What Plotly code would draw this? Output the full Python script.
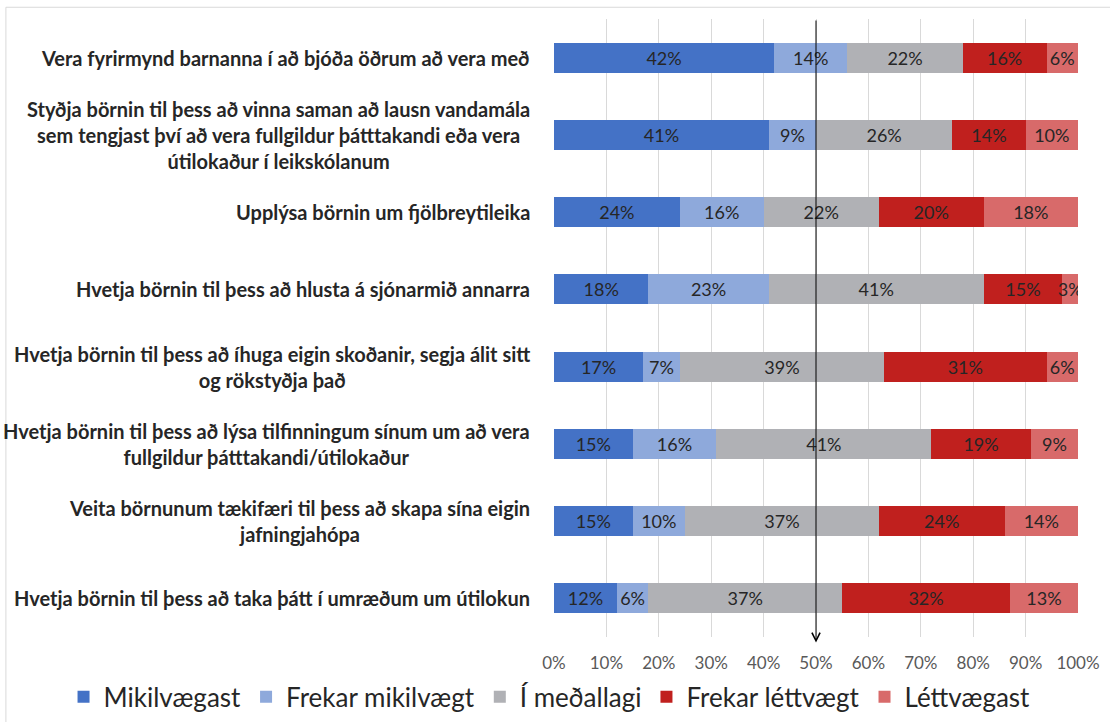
import plotly.graph_objects as go

# spurningar (efst fyrst)
categories = [
    "Vera fyrirmynd barnanna í að bjóða öðrum að vera með",
    "Styðja börnin til þess að vinna saman að lausn vandamála<br>sem tengjast því að vera fullgildur þátttakandi eða vera<br>útilokaður í leikskólanum",
    "Upplýsa börnin um fjölbreytileika",
    "Hvetja börnin til þess að hlusta á sjónarmið annarra",
    "Hvetja börnin til þess að íhuga eigin skoðanir, segja álit sitt<br>og rökstyðja það",
    "Hvetja börnin til þess að lýsa tilfinningum sínum um að vera<br>fullgildur þátttakandi/útilokaður",
    "Veita börnunum tækifæri til þess að skapa sína eigin<br>jafningjahópa",
    "Hvetja börnin til þess að taka þátt í umræðum um útilokun",
]

series_names = ["Mikilvægast", "Frekar mikilvægt", "Í meðallagi", "Frekar léttvægt", "Léttvægast"]

mikilvaegast = [42, 41, 24, 18, 17, 15, 15, 12]
frekar_mikilvaegt = [14, 9, 16, 23, 7, 16, 10, 6]
medallagi = [22, 26, 22, 41, 39, 41, 37, 37]
frekar_lettvaegt = [16, 14, 20, 15, 31, 19, 24, 32]
lettvaegast = [6, 10, 18, 3, 6, 9, 14, 13]

x_ticks = [0, 10, 20, 30, 40, 50, 60, 70, 80, 90, 100]

colors = ["#4472C6", "#8EA9DB", "#B0B1B5", "#C0201E", "#D86A6A"]
values = [mikilvaegast, frekar_mikilvaegt, medallagi, frekar_lettvaegt, lettvaegast]

FONT = "Lato"

fig = go.Figure()
for name, vals, col in zip(series_names, values, colors):
    fig.add_trace(go.Bar(
        y=categories, x=vals, name=name, orientation="h",
        marker=dict(color=col, line=dict(width=0)),
        text=[f"{v}%" for v in vals], textposition="inside",
        insidetextanchor="middle", textangle=0, constraintext="none",
        textfont=dict(family=FONT, size=18, color="#262626"),
        hoverinfo="x+name",
    ))

# flokkaheiti sem miðjusettur texti
for c in categories:
    fig.add_annotation(
        x=0, xref="paper", y=c, yref="y", text=f"<b>{c}</b>",
        showarrow=False, xanchor="right", yanchor="middle", align="center",
        xshift=-22, font=dict(family=FONT, size=20, color="#262626"),
    )

# ör við 50%
fig.add_annotation(
    x=50, xref="x", y=-0.009, yref="y domain",
    ax=50, axref="x", ay=1.0, ayref="y domain",
    showarrow=True, arrowhead=5, arrowsize=1.6, arrowwidth=1, arrowcolor="#000000",
    text="",
)

# rammi
fig.add_shape(type="rect", xref="paper", yref="paper", x0=-1.046, x1=1.2, y0=-0.5, y1=1.019,
              line=dict(color="#D9D9D9", width=1), fillcolor="rgba(0,0,0,0)", layer="below")

fig.update_layout(
    barmode="stack",
    bargap=0.61,
    width=1110, height=722,
    margin=dict(l=554, r=32, t=19, b=85, autoexpand=False),
    plot_bgcolor="white", paper_bgcolor="white",
    font=dict(family=FONT, color="#595959"),
    showlegend=True,
    legend=dict(
        orientation="h", xref="paper", yref="paper",
        x=-0.936, xanchor="left", y=-0.097, yanchor="middle",
        font=dict(family=FONT, size=26, color="#262626"),
        traceorder="normal", itemclick=False,
    ),
    xaxis=dict(
        range=[0, 100], tickvals=x_ticks, ticktext=[f"{t}%" for t in x_ticks],
        showgrid=True, gridcolor="#D9D9D9", gridwidth=1, zeroline=False,
        tickfont=dict(family=FONT, size=17, color="#595959"), ticks="", ticklabelstandoff=14,
    ),
    yaxis=dict(
        categoryorder="array", categoryarray=categories, autorange="reversed",
        showticklabels=False, showgrid=False, ticks="",
    ),
)

fig.write_html("out.html", config={"displayModeBar": False},
               post_script="document.body.style.margin='0';")
